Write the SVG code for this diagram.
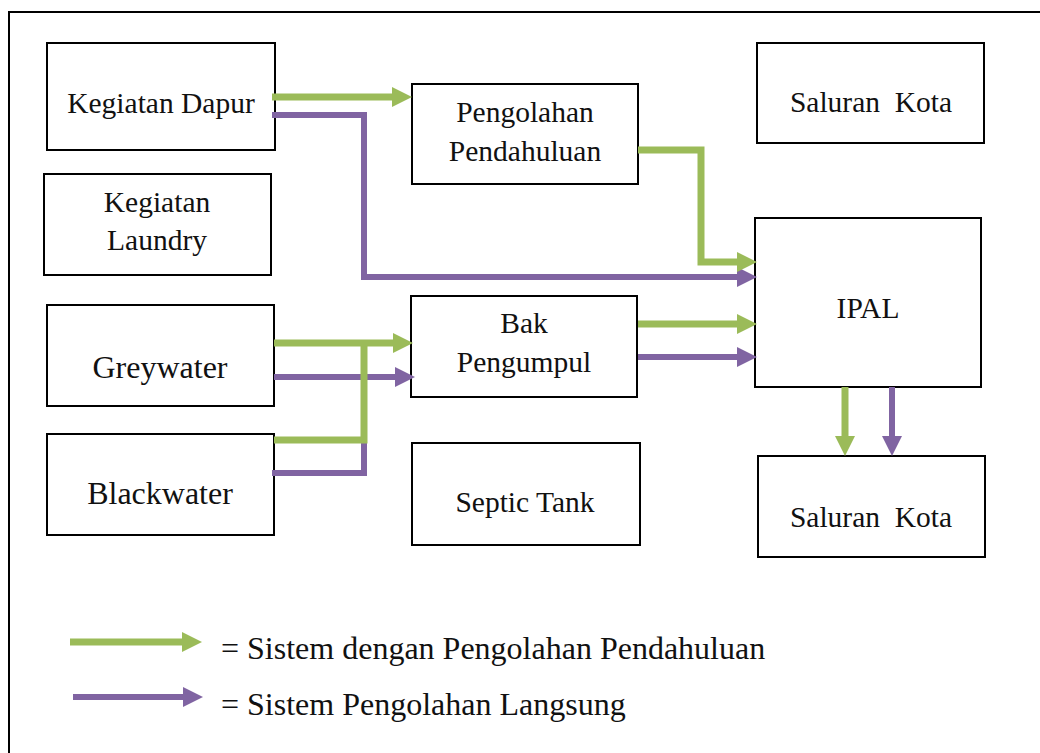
<svg xmlns="http://www.w3.org/2000/svg" width="1040" height="753" viewBox="0 0 1040 753">
<style>
  .box { fill: none; stroke: #000; stroke-width: 2; }
  .t { font-family: "Liberation Serif", "DejaVu Serif", serif; font-size: 29.5px; fill: #111; text-anchor: middle; }
  .big { font-size: 32px; }
  .leg { font-family: "Liberation Serif", "DejaVu Serif", serif; font-size: 32px; fill: #111; }
  .g { fill: none; stroke: #9BBB59; stroke-width: 7; }
  .p { fill: none; stroke: #8064A2; stroke-width: 6; }
</style>
<defs>
  <marker id="ag" markerUnits="userSpaceOnUse" markerWidth="20" markerHeight="22" refX="3" refY="11" orient="auto" viewBox="0 0 20 22">
    <path d="M0,1 L20,11 L0,21 Z" fill="#9BBB59"/>
  </marker>
  <marker id="ap" markerUnits="userSpaceOnUse" markerWidth="20" markerHeight="22" refX="3" refY="11" orient="auto" viewBox="0 0 20 22">
    <path d="M0,1 L20,11 L0,21 Z" fill="#8064A2"/>
  </marker>
</defs>
<rect width="1040" height="753" fill="#fff"/>
<path d="M9,753 L9,12 L1040,12" fill="none" stroke="#000" stroke-width="2"/>

<g id="n-dapur"><rect class="box" x="47" y="43" width="228" height="107"/><text class="t" x="161" y="113">Kegiatan Dapur</text></g>
<g id="n-laundry"><rect class="box" x="44" y="174" width="227" height="101"/><text class="t" x="157" y="212">Kegiatan</text><text class="t" x="157" y="250">Laundry</text></g>
<g id="n-grey"><rect class="box" x="47" y="305" width="227" height="101"/><text class="t big" x="160" y="378">Greywater</text></g>
<g id="n-black"><rect class="box" x="47" y="434" width="227" height="101"/><text class="t big" x="160" y="504">Blackwater</text></g>
<g id="n-pengolahan"><rect class="box" x="412" y="84" width="226" height="100"/><text class="t" x="525" y="122">Pengolahan</text><text class="t" x="525" y="161">Pendahuluan</text></g>
<g id="n-bak"><rect class="box" x="411" y="296" width="226" height="101"/><text class="t" x="524" y="333">Bak</text><text class="t" x="524" y="372">Pengumpul</text></g>
<g id="n-septic"><rect class="box" x="412" y="443" width="228" height="102"/><text class="t" x="525" y="512">Septic Tank</text></g>
<g id="n-saluran1"><rect class="box" x="757" y="43" width="227" height="100"/><text class="t" x="871" y="112" xml:space="preserve">Saluran  Kota</text></g>
<g id="n-ipal"><rect class="box" x="755" y="218" width="226" height="169"/><text class="t" x="868" y="318">IPAL</text></g>
<g id="n-saluran2"><rect class="box" x="758" y="456" width="227" height="101"/><text class="t" x="871" y="527" xml:space="preserve">Saluran  Kota</text></g>

<g id="connectors">
  <path class="p" d="M272,115 L364,115 L364,277 L740,277" marker-end="url(#ap)"/>
  <path class="g" d="M272,97 L395,97" marker-end="url(#ag)"/>
  <path class="g" d="M638,150 L701,150 L701,262 L740,262" marker-end="url(#ag)"/>
  <path class="g" d="M638,324 L740,324" marker-end="url(#ag)"/>
  <path class="p" d="M638,357 L740,357" marker-end="url(#ap)"/>
  <path class="g" d="M845,387 L845,439" marker-end="url(#ag)"/>
  <path class="p" d="M892,387 L892,439" marker-end="url(#ap)"/>
  <path class="p" d="M272,473 L364,473 L364,377" />
  <path class="p" d="M274,377 L398,377" marker-end="url(#ap)"/>
  <path class="g" d="M274,440 L364,440 L364,343" />
  <path class="g" d="M274,343 L396,343" marker-end="url(#ag)"/>
</g>

<g id="legend">
  <path class="g" d="M70,642 L185,642" marker-end="url(#ag)"/>
  <path class="p" d="M73,697 L186,697" marker-end="url(#ap)"/>
  <text class="leg" x="221" y="659">= Sistem dengan Pengolahan Pendahuluan</text>
  <text class="leg" x="221" y="715">= Sistem Pengolahan Langsung</text>
</g>
</svg>
